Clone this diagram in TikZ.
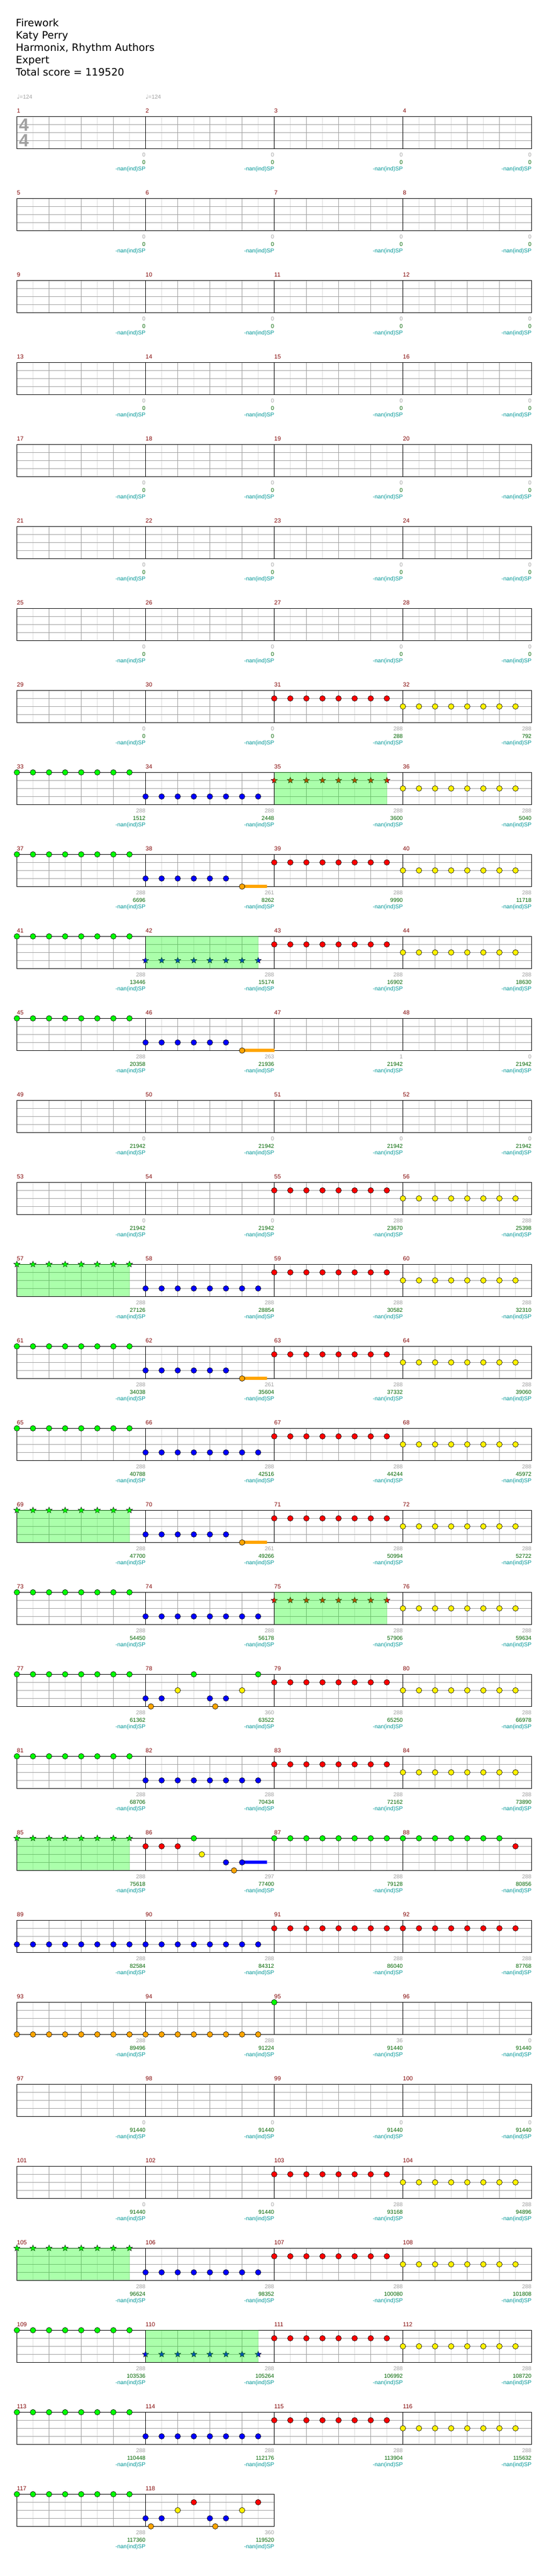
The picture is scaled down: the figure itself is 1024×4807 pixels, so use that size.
\documentclass[tikz,border=0pt]{standalone}
\usepackage{fontspec}
\setmainfont{DejaVu Sans}
\newfontfamily\chartfont{Liberation Sans}
\usetikzlibrary{shapes.geometric,positioning}

\definecolor{barnum}{RGB}{128,0,0}
\definecolor{ptsgray}{RGB}{160,160,160}
\definecolor{totgreen}{RGB}{0,100,0}
\definecolor{spteal}{RGB}{0,150,150}
\definecolor{lanegray}{RGB}{160,160,160}
\definecolor{halfgray}{RGB}{220,220,220}
\definecolor{gemgreen}{RGB}{0,255,0}
\definecolor{gemorange}{RGB}{255,165,0}

% start of a measure: \bx, top of its staff: \by
\newcommand{\barat}[1]{%
  \pgfmathtruncatemacro\brow{(#1-1)/4}%
  \pgfmathtruncatemacro\bcol{mod(#1-1,4)}%
  \pgfmathsetmacro\bx{31.5+240*\bcol}%
  \pgfmathsetmacro\by{217.3+153*\brow}}
\newcommand{\staff}[2]{%
  \pgfmathsetmacro\sty{217.3+153*#1}%
  \pgfmathsetmacro\stx{31.5+240*#2}%
  \pgfmathtruncatemacro\nbeats{4*#2}%
  \foreach \i in {1,...,\nbeats} \draw[halfline] ({31.5+60*\i-30},\sty) -- ++(0,60);
  \foreach \i in {1,...,\nbeats} \draw[beatline] ({31.5+60*\i},\sty) -- ++(0,60);
  \foreach \j in {1,2,3} \draw[beatline] (31.5,{\sty+15*\j}) -- (\stx,{\sty+15*\j});
  \foreach \i in {1,...,#2} \draw[barline] ({31.5+240*\i},\sty) -- ++(0,60);
  \draw[barline] (31.5,\sty) rectangle (\stx,{\sty+60});}
\newcommand{\gem}[4]{\barat{#1}\filldraw[gem,fill=#4] ({\bx+#2},{\by+15*#3}) circle (5.2pt);}
\newcommand{\run}[4][8]{\foreach \k in {1,...,#1}{\gem{#2}{30*(\k-1)}{#3}{#4}}}
\newcommand{\tail}[5]{\barat{#1}\fill[#5] ({\bx+#2},{\by+15*#4-3}) rectangle ({\bx+#3},{\by+15*#4+3});}
\newcommand{\sprun}[3]{%
  \barat{#1}%
  \foreach \k in {0,...,7}{\node[spstar,fill=#3] (st-#1-\k) at ({\bx+30*\k},{\by+15*#2}) {};}
  \fill[phrase] (\bx,\by) rectangle ({\bx+210},{\by+60});}
\newcommand{\score}[3]{%
  \barat{#1}\pgfmathsetmacro\bend{\bx+240}%
  \node[pts] (pts-#1) at (\bend,{\by+75.4}) {#2};
  \node[tot] (tot-#1) at (\bend,{\by+88.7}) {#3};
  \node[spv] (spv-#1) at (\bend,{\by+101.3}) {-nan(ind)SP};}

\begin{document}
\begin{tikzpicture}[x=1pt, y=-1pt,
    head/.style={font=\fontsize{19}{23}\selectfont, anchor=base west, inner sep=0pt},
    small/.style={font=\chartfont\fontsize{10.5}{12}\selectfont, inner sep=0pt},
    barno/.style={small, font=\chartfont\fontsize{11}{12}\selectfont, text=barnum, anchor=base west},
    pts/.style={small, text=ptsgray, anchor=base east},
    tot/.style={small, text=totgreen, anchor=base east},
    spv/.style={small, text=spteal, anchor=base east},
    tempo/.style={small, text=ptsgray, anchor=base west},
    timesig/.style={font=\chartfont\bfseries\fontsize{33}{33}\selectfont, text=ptsgray, inner sep=0pt},
    halfline/.style={halfgray, line width=1pt},
    beatline/.style={lanegray, line width=1pt},
    barline/.style={black, line width=1pt},
    gem/.style={draw=black, line width=0.6pt},
    spstar/.style={star, star points=5, star point ratio=2.3, minimum size=12pt, inner sep=0pt, draw=black, line width=0.5pt},
    phrase/.style={fill=gemgreen, fill opacity=0.33}]
  \useasboundingbox (0,0) rectangle (1024,4807);

  \node[head] (title) at (29.5,49.5) {Firework};
  \node[head] (artist) at (29.5,72.5) {Katy Perry};
  \node[head] (charter) at (29.5,95.5) {Harmonix, Rhythm Authors};
  \node[head] (level) at (29.5,118.5) {Expert};
  \node[head] (total) at (29.5,141.5) {Total score = 119520};

  \node[tempo] (bpm-1) at (31.3,184.5) {{\normalfont\fontsize{11}{12}\selectfont ♩}=124};
  \node[tempo] (bpm-2) at (271.3,184.5) {{\normalfont\fontsize{11}{12}\selectfont ♩}=124};

  % staves
  \foreach \r in {0,...,28} {\staff{\r}{4}}
  \staff{29}{2}
  \node[timesig] (ts-up) at (44.5,233) {4};
  \node[timesig] (ts-down) at (44.5,262) {4};

  \foreach \m in {1,...,118} {\barat{\m}\node[barno] (no-\m) at (\bx,{\by-7}) {\m};}

  % scores
  \foreach \m in {1,...,30} {\score{\m}{0}{0}}
  \foreach \m/\bpts/\btot in {31/288/288, 32/288/792, 33/288/1512, 34/288/2448, 35/288/3600,
      36/288/5040, 37/288/6696, 38/261/8262, 39/288/9990, 40/288/11718, 41/288/13446,
      42/288/15174, 43/288/16902, 44/288/18630, 45/288/20358, 46/263/21936, 47/1/21942,
      48/0/21942, 49/0/21942, 50/0/21942, 51/0/21942, 52/0/21942, 53/0/21942, 54/0/21942,
      55/288/23670, 56/288/25398, 57/288/27126, 58/288/28854, 59/288/30582, 60/288/32310,
      61/288/34038, 62/261/35604, 63/288/37332, 64/288/39060, 65/288/40788, 66/288/42516,
      67/288/44244, 68/288/45972, 69/288/47700, 70/261/49266, 71/288/50994, 72/288/52722,
      73/288/54450, 74/288/56178, 75/288/57906, 76/288/59634, 77/288/61362, 78/360/63522,
      79/288/65250, 80/288/66978, 81/288/68706, 82/288/70434, 83/288/72162, 84/288/73890,
      85/288/75618, 86/297/77400, 87/288/79128, 88/288/80856, 89/288/82584, 90/288/84312,
      91/288/86040, 92/288/87768, 93/288/89496, 94/288/91224, 95/36/91440, 96/0/91440,
      97/0/91440, 98/0/91440, 99/0/91440, 100/0/91440, 101/0/91440, 102/0/91440,
      103/288/93168, 104/288/94896, 105/288/96624, 106/288/98352, 107/288/100080,
      108/288/101808, 109/288/103536, 110/288/105264, 111/288/106992, 112/288/108720,
      113/288/110448, 114/288/112176, 115/288/113904, 116/288/115632, 117/288/117360,
      118/360/119520} {\score{\m}{\bpts}{\btot}}

  % notes
  \run{31}{1}{red} \run{32}{2}{yellow}
  \run{33}{0}{gemgreen} \run{34}{3}{blue} \sprun{35}{1}{red} \run{36}{2}{yellow}
  \run{37}{0}{gemgreen} \tail{38}{180}{226}{4}{gemorange} \run[6]{38}{3}{blue} \gem{38}{180}{4}{gemorange}
  \run{39}{1}{red} \run{40}{2}{yellow}
  \run{41}{0}{gemgreen} \sprun{42}{3}{blue} \run{43}{1}{red} \run{44}{2}{yellow}
  \run{45}{0}{gemgreen} \tail{46}{180}{240}{4}{gemorange} \run[6]{46}{3}{blue} \gem{46}{180}{4}{gemorange}
  \run{55}{1}{red} \run{56}{2}{yellow}
  \sprun{57}{0}{gemgreen} \run{58}{3}{blue} \run{59}{1}{red} \run{60}{2}{yellow}
  \run{61}{0}{gemgreen} \tail{62}{180}{226}{4}{gemorange} \run[6]{62}{3}{blue} \gem{62}{180}{4}{gemorange}
  \run{63}{1}{red} \run{64}{2}{yellow}
  \run{65}{0}{gemgreen} \run{66}{3}{blue} \run{67}{1}{red} \run{68}{2}{yellow}
  \sprun{69}{0}{gemgreen} \tail{70}{180}{226}{4}{gemorange} \run[6]{70}{3}{blue} \gem{70}{180}{4}{gemorange}
  \run{71}{1}{red} \run{72}{2}{yellow}
  \run{73}{0}{gemgreen} \run{74}{3}{blue} \sprun{75}{1}{red} \run{76}{2}{yellow}
  \run{77}{0}{gemgreen}
  \foreach \ofs/\lane/\gc in {0/3/blue, 10/4/gemorange, 30/3/blue, 60/2/yellow, 90/0/gemgreen,
      120/3/blue, 130/4/gemorange, 150/3/blue, 180/2/yellow, 210/0/gemgreen} {\gem{78}{\ofs}{\lane}{\gc}}
  \run{79}{1}{red} \run{80}{2}{yellow}
  \run{81}{0}{gemgreen} \run{82}{3}{blue} \run{83}{1}{red} \run{84}{2}{yellow}
  \sprun{85}{0}{gemgreen}
  \foreach \ofs/\lane/\gc in {0/1/red, 30/1/red, 60/1/red, 90/0/gemgreen, 105/2/yellow,
      150/3/blue, 165/4/gemorange} {\gem{86}{\ofs}{\lane}{\gc}}
  \tail{86}{180}{226}{3}{blue} \gem{86}{180}{3}{blue}
  \run{87}{0}{gemgreen} \run[7]{88}{0}{gemgreen} \gem{88}{210}{1}{red}
  \run{89}{3}{blue} \run{90}{3}{blue} \run{91}{1}{red} \run{92}{1}{red}
  \run{93}{4}{gemorange} \run{94}{4}{gemorange} \gem{95}{0}{0}{gemgreen}
  \run{103}{1}{red} \run{104}{2}{yellow}
  \sprun{105}{0}{gemgreen} \run{106}{3}{blue} \run{107}{1}{red} \run{108}{2}{yellow}
  \run{109}{0}{gemgreen} \sprun{110}{3}{blue} \run{111}{1}{red} \run{112}{2}{yellow}
  \run{113}{0}{gemgreen} \run{114}{3}{blue} \run{115}{1}{red} \run{116}{2}{yellow}
  \run{117}{0}{gemgreen}
  \foreach \ofs/\lane/\gc in {0/3/blue, 10/4/gemorange, 30/3/blue, 60/2/yellow, 90/1/red,
      120/3/blue, 130/4/gemorange, 150/3/blue, 180/2/yellow, 210/1/red} {\gem{118}{\ofs}{\lane}{\gc}}
\end{tikzpicture}
\end{document}
